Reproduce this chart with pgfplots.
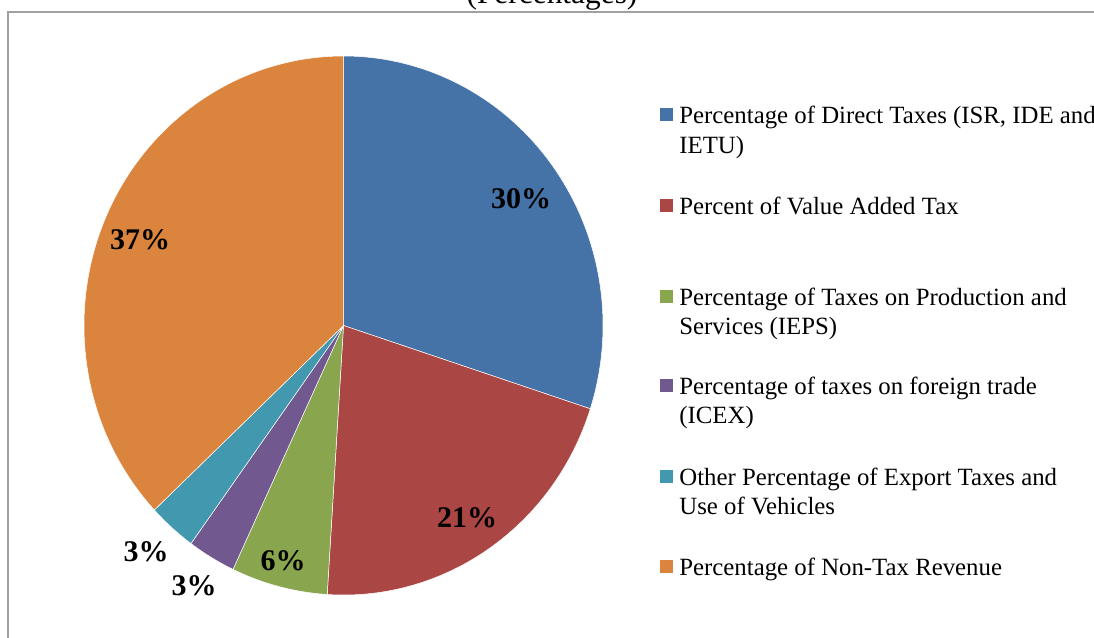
\documentclass[border=0pt]{standalone}
\usepackage{pgfplots}
\usepackage{pgfplotstable}
\usepackage{fontspec}
\setmainfont{Liberation Serif}
\pgfplotsset{compat=1.18}

\definecolor{pieblue}{HTML}{4572A7}
\definecolor{piered}{HTML}{AA4643}
\definecolor{piegreen}{HTML}{89A54E}
\definecolor{piepurple}{HTML}{71588F}
\definecolor{pieteal}{HTML}{4198AF}
\definecolor{pieorange}{HTML}{DB843D}
\definecolor{framegray}{HTML}{A0A0A0}

% shares in percent, clockwise from 12 o'clock
\pgfplotstableread{
share colour
30 pieblue
21 piered
6  piegreen
3  piepurple
3  pieteal
37 pieorange
}\piedata

\begin{document}
\begin{tikzpicture}
\begin{axis}[
    hide axis,
    x=0.5pt, y=0.5pt, y dir=reverse,
    xmin=0, xmax=1094, ymin=0, ymax=638,
    clip=false,
  ]
  % frame and title (title is cut off at the top of the picture)
  \draw[framegray, line width=0.8pt] (axis cs:8,660) -- (axis cs:8,12) -- (axis cs:1110,12);
  \node[anchor=base, font=\fontsize{15.7pt}{18pt}\selectfont] at (axis cs:552,3) {(Percentages)};

  % pie slices
  \def\cx{343.5}\def\cy{325.5}
  \def\angA{90}
  \pgfplotstablegetrowsof{\piedata}
  \pgfmathtruncatemacro\nrows{\pgfplotsretval-1}
  \pgfplotsforeachungrouped \i in {0,...,\nrows}{%
    \pgfplotstablegetelem{\i}{share}\of\piedata \let\val\pgfplotsretval
    \pgfplotstablegetelem{\i}{colour}\of\piedata \let\col\pgfplotsretval
    \pgfmathsetmacro\angB{\angA-3.6*\val}%
    \pgfmathsetmacro\sx{\cx+259.5*cos(\angA)}%
    \pgfmathsetmacro\sy{\cy-269.5*sin(\angA)}%
    \edef\temp{\noexpand\fill[\col, draw=white, line width=0.25pt]
      (axis cs:\cx,\cy) -- (axis cs:\sx,\sy)
      arc[start angle=\angA, end angle=\angB, x radius=129.75pt, y radius=134.75pt] -- cycle;}%
    \temp
    \global\let\angA\angB
  }

  % data labels
  \begin{scope}[font=\fontsize{15pt}{17pt}\selectfont\bfseries]
    \node at (axis cs:521,199) {30\%};
    \node at (axis cs:467,518) {21\%};
    \node at (axis cs:283,561) {6\%};
    \node at (axis cs:194,586) {3\%};
    \node at (axis cs:146,552) {3\%};
    \node at (axis cs:140,240) {37\%};
  \end{scope}

  % legend
  \begin{scope}[font=\fontsize{12.4pt}{14pt}\selectfont]
    \fill[pieblue]   (axis cs:660,108) rectangle (axis cs:673,121);
    \node[anchor=base west, inner sep=0pt] at (axis cs:679,123.5) {Percentage of Direct Taxes (ISR, IDE and};
    \node[anchor=base west, inner sep=0pt] at (axis cs:679,153) {IETU)};
    \fill[piered]    (axis cs:660,199) rectangle (axis cs:673,212);
    \node[anchor=base west, inner sep=0pt] at (axis cs:679,214) {Percent of Value Added Tax};
    \fill[piegreen]  (axis cs:660,290) rectangle (axis cs:673,303);
    \node[anchor=base west, inner sep=0pt] at (axis cs:679,305) {Percentage of Taxes on Production and};
    \node[anchor=base west, inner sep=0pt] at (axis cs:679,334) {Services (IEPS)};
    \fill[piepurple] (axis cs:660,379) rectangle (axis cs:673,392);
    \node[anchor=base west, inner sep=0pt] at (axis cs:679,394) {Percentage of taxes on foreign trade};
    \node[anchor=base west, inner sep=0pt] at (axis cs:679,423) {(ICEX)};
    \fill[pieteal]   (axis cs:660,470) rectangle (axis cs:673,483);
    \node[anchor=base west, inner sep=0pt] at (axis cs:679,485) {Other Percentage of Export Taxes and};
    \node[anchor=base west, inner sep=0pt] at (axis cs:679,514) {Use of Vehicles};
    \fill[pieorange] (axis cs:660,560) rectangle (axis cs:673,573);
    \node[anchor=base west, inner sep=0pt] at (axis cs:679,575) {Percentage of Non-Tax Revenue};
  \end{scope}

  \coordinate (SW) at (axis cs:0,638);
  \coordinate (NE) at (axis cs:1094,0);
\end{axis}
\pgfresetboundingbox
\path[use as bounding box] (SW) rectangle (NE);
\end{tikzpicture}
\end{document}
